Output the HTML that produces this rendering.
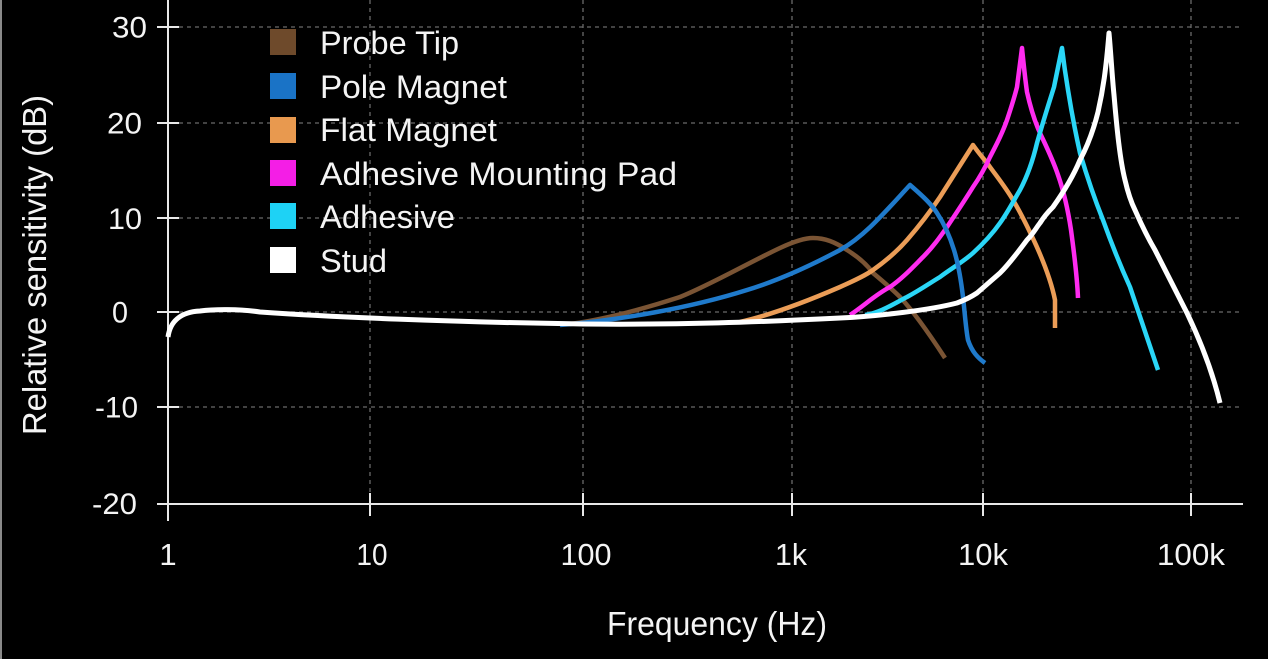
<!DOCTYPE html>
<html>
<head>
<meta charset="utf-8">
<style>
  html, body { margin:0; padding:0; background:#000; }
  body { width:1268px; height:659px; overflow:hidden; }
  svg { display:block; }
  text { font-family:"Liberation Sans", "DejaVu Sans", sans-serif; fill:#f4f4f4; }
</style>
</head>
<body>
<svg width="1268" height="659" viewBox="0 0 1268 659" xmlns="http://www.w3.org/2000/svg">
  <rect x="0" y="0" width="1268" height="659" fill="#000"/>
  <rect x="0" y="0" width="2" height="659" fill="#8a8a8a"/>

  <!-- grid -->
  <g stroke="#6a6a6a" stroke-width="1.3" stroke-dasharray="4 4" fill="none">
    <line x1="179" y1="27" x2="1241" y2="27"/>
    <line x1="179" y1="123" x2="1241" y2="123"/>
    <line x1="179" y1="218" x2="1241" y2="218"/>
    <line x1="179" y1="312" x2="1241" y2="312"/>
    <line x1="179" y1="407" x2="1241" y2="407"/>
    <line x1="370" y1="0" x2="370" y2="493"/>
    <line x1="583" y1="0" x2="583" y2="493"/>
    <line x1="792" y1="0" x2="792" y2="493"/>
    <line x1="983" y1="0" x2="983" y2="493"/>
    <line x1="1191" y1="0" x2="1191" y2="493"/>
  </g>

  <!-- axes -->
  <g stroke="#e8e8e8" stroke-width="2" fill="none">
    <line x1="168" y1="0" x2="168" y2="521"/>
    <line x1="157" y1="504" x2="1243" y2="504"/>
    <line x1="157" y1="27" x2="179" y2="27"/>
    <line x1="157" y1="123" x2="179" y2="123"/>
    <line x1="157" y1="218" x2="179" y2="218"/>
    <line x1="157" y1="312" x2="179" y2="312"/>
    <line x1="157" y1="407" x2="179" y2="407"/>
    <line x1="370" y1="493" x2="370" y2="516"/>
    <line x1="583" y1="493" x2="583" y2="516"/>
    <line x1="792" y1="493" x2="792" y2="516"/>
    <line x1="983" y1="493" x2="983" y2="516"/>
    <line x1="1191" y1="493" x2="1191" y2="516"/>
  </g>

  <!-- y tick labels -->
  <g font-size="29.5">
    <text x="112" y="37.5" textLength="35" lengthAdjust="spacingAndGlyphs">30</text>
    <text x="107" y="133.5" textLength="35" lengthAdjust="spacingAndGlyphs">20</text>
    <text x="108" y="229" textLength="34" lengthAdjust="spacingAndGlyphs">10</text>
    <text x="112" y="322.5" textLength="16" lengthAdjust="spacingAndGlyphs">0</text>
    <text x="95" y="417.5" textLength="43" lengthAdjust="spacingAndGlyphs">-10</text>
    <text x="92" y="514" textLength="45" lengthAdjust="spacingAndGlyphs">-20</text>
  </g>

  <!-- x tick labels -->
  <g font-size="31" text-anchor="middle">
    <text x="168" y="565">1</text>
    <text x="372" y="565" textLength="31" lengthAdjust="spacingAndGlyphs">10</text>
    <text x="586" y="565" textLength="51" lengthAdjust="spacingAndGlyphs">100</text>
    <text x="791" y="565" textLength="32" lengthAdjust="spacingAndGlyphs">1k</text>
    <text x="983" y="565" textLength="50" lengthAdjust="spacingAndGlyphs">10k</text>
    <text x="1191" y="565" textLength="68" lengthAdjust="spacingAndGlyphs">100k</text>
  </g>

  <!-- axis titles -->
  <text x="607" y="635" font-size="33" textLength="220" lengthAdjust="spacingAndGlyphs">Frequency (Hz)</text>
  <text transform="translate(46,265) rotate(-90)" x="0" y="0" font-size="33" text-anchor="middle" textLength="340" lengthAdjust="spacingAndGlyphs">Relative sensitivity (dB)</text>

  <!-- legend -->
  <rect x="270" y="29" width="26" height="26" fill="#6e4a2b"/>
  <rect x="270" y="73" width="26" height="26" fill="#1a73c6"/>
  <rect x="270" y="117" width="26" height="26" fill="#e8994f"/>
  <rect x="270" y="160" width="26" height="26" fill="#f41ee6"/>
  <rect x="270" y="203" width="26" height="26" fill="#1ed2f5"/>
  <rect x="270" y="247" width="26" height="26" fill="#ffffff"/>
  <g font-size="32">
    <text x="320" y="54" textLength="139" lengthAdjust="spacingAndGlyphs">Probe Tip</text>
    <text x="320" y="98" textLength="187" lengthAdjust="spacingAndGlyphs">Pole Magnet</text>
    <text x="320" y="141" textLength="177" lengthAdjust="spacingAndGlyphs">Flat Magnet</text>
    <text x="320" y="185" textLength="357" lengthAdjust="spacingAndGlyphs">Adhesive Mounting Pad</text>
    <text x="320" y="228" textLength="135" lengthAdjust="spacingAndGlyphs">Adhesive</text>
    <text x="320" y="272" textLength="67" lengthAdjust="spacingAndGlyphs">Stud</text>
  </g>

  <!-- curves -->
  <g fill="none" stroke-width="4.5" stroke-linecap="butt" stroke-linejoin="round">
    <!-- Probe Tip -->
    <path stroke="#7a5434" d="M570,324 C600,320 640,310 680,297 C710,285 750,262 780,248 C795,241 805,238 813,238 C825,238 835,242 847,250 C860,258 868,266 873,273 C885,283 893,290 900,297 C915,313 930,335 945,358"/>
    <!-- Flat Magnet -->
    <path stroke="#eb9d57" d="M740,322 C775,314 810,300 840,287 C858,279 866,275 873,270 C890,258 900,248 907,240 C920,225 930,212 940,197 L973,145 C980,155 985,160 990,167 C998,178 1006,188 1013,200 C1022,215 1030,232 1036,245 C1045,265 1052,285 1055,300 L1055,328"/>
    <!-- Adhesive Mounting Pad -->
    <path stroke="#ff2bf0" d="M850,315 C865,305 875,295 890,287 C903,278 913,267 923,257 C933,247 940,237 947,227 C955,215 965,200 973,187 C980,177 985,168 990,157 C996,145 1001,137 1007,120 C1012,105 1015,95 1017,87 L1022,48 C1024,68 1025,78 1027,92 C1031,110 1035,122 1040,133 C1047,148 1053,160 1058,175 C1064,192 1068,210 1071,230 C1074,252 1077,275 1078,298"/>
    <!-- Adhesive -->
    <path stroke="#2ad6f7" d="M865,315 C880,313 895,303 907,297 C920,290 930,283 940,277 C952,268 963,262 973,253 C985,242 993,233 1000,223 C1008,212 1014,200 1020,190 C1028,175 1033,160 1037,143 C1045,115 1050,100 1054,87 L1062,48 C1064,65 1066,78 1068,90 C1072,115 1076,135 1080,153 C1088,180 1095,200 1103,220 C1112,245 1120,265 1130,287 L1158,370"/>
    <!-- Pole Magnet -->
    <path stroke="#1f7acb" d="M560,325 C620,320 690,308 747,290 C780,280 810,266 840,250 C865,236 885,212 910,185 C925,198 932,205 937,213 C945,225 950,237 954,250 C958,263 961,280 963,297 C965,315 966,330 968,340 C972,352 978,358 985,363"/>
    <!-- Stud -->
    <path stroke="#ffffff" stroke-width="5" d="M168,337 C170,322 180,312 200,311 C215,309 240,309 260,312 C330,317 450,322 583,324 C680,325 760,322 840,318 C880,316 930,310 957,303 C965,300 971,297 977,293 C985,286 992,280 1000,273 C1010,263 1018,252 1027,240 C1033,234 1036,228 1040,223 C1045,215 1050,210 1053,207 C1065,190 1075,172 1080,160 C1088,145 1094,128 1098,112 C1103,90 1106,70 1109,33 C1111,55 1112,75 1114,95 C1117,130 1120,160 1125,180 C1128,193 1131,202 1135,210 C1142,226 1148,238 1155,250 L1187,313 C1200,340 1212,370 1220,403"/>
  </g>
</svg>
</body>
</html>
